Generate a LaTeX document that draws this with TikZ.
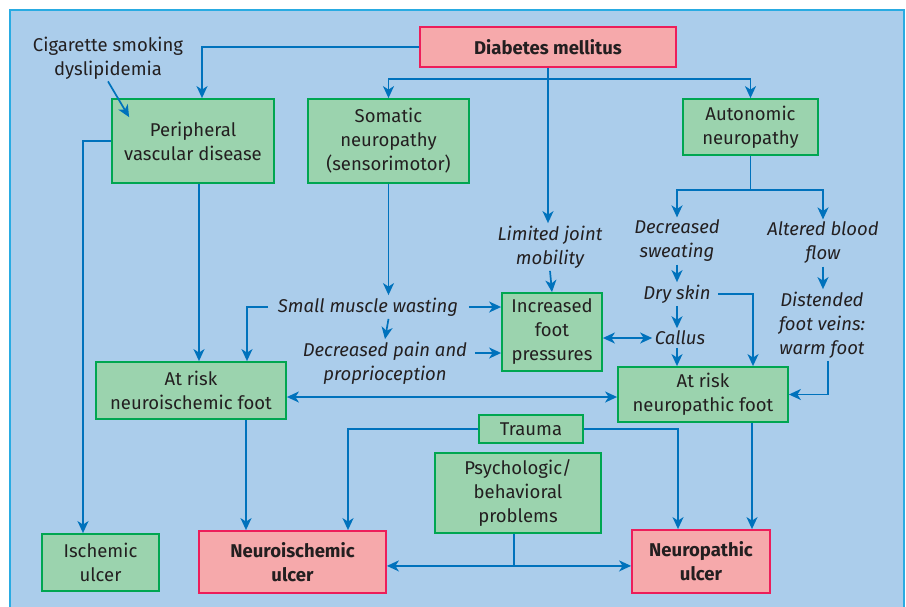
\documentclass[tikz,border=0pt]{standalone}
\usepackage{fontspec}
\setmainfont{Fira Sans}
\usetikzlibrary{arrows.meta,calc}

\definecolor{panelbg}{HTML}{ABCDEB}
\definecolor{panelframe}{HTML}{29ABE2}
\definecolor{boxgreen}{HTML}{9BD3AE}
\definecolor{boxgreenline}{HTML}{00A651}
\definecolor{boxpink}{HTML}{F6A9AB}
\definecolor{boxpinkline}{HTML}{ED1E5A}
\definecolor{flow}{HTML}{0072BC}
\definecolor{ink}{HTML}{231F20}

\begin{document}
\begin{tikzpicture}[x=1pt, y=-1pt, text=ink]

    % let's define some key values
    \def\panelleft{10}
    \def\paneltop{10}
    \def\panelright{904}
    \def\panelbottom{620}
    \def\txt{\fontsize{18.5}{24}\selectfont}

    % Styles
    \tikzstyle{cause}=[draw=boxgreenline, fill=boxgreen, line width=1.8pt,
        align=center, inner sep=0pt, font=\txt]
    \tikzstyle{ulcer}=[draw=boxpinkline, fill=boxpink, line width=1.8pt,
        align=center, inner sep=0pt, font=\txt\bfseries]
    \tikzstyle{factor}=[align=center, inner sep=2.5pt, font=\txt\itshape]
    \tikzstyle{note}=[align=center, inner sep=2pt, font=\txt]
    \tikzstyle{flowline}=[flow, line width=1.7pt]
    \tikzstyle{arr}=[flowline, -{Stealth[length=12pt, width=11pt, inset=3.5pt]}]
    \tikzstyle{dblarr}=[flowline,
        {Stealth[length=12pt, width=11pt, inset=3.5pt]}-{Stealth[length=12pt, width=11pt, inset=3.5pt]}]

    % panel
    \useasboundingbox (0,0) rectangle (906,606);
    \draw[panelframe, fill=panelbg, line width=1.5pt]
        (\panelleft,\paneltop) rectangle (\panelright,\panelbottom);

    % top row
    \node[ulcer, minimum width=256pt, minimum height=40pt] (dm) at (548,47) {Diabetes mellitus};
    \node[note] (cig) at (108,58) {Cigarette smoking\\dyslipidemia};
    \node[cause, minimum width=162pt, minimum height=84pt] (pvd) at (193,141)
        {Peripheral\\vascular disease};
    \node[cause, minimum width=161pt, minimum height=84pt] (som) at (388.5,141)
        {Somatic\\neuropathy\\(sensorimotor)};
    \node[cause, minimum width=135pt, minimum height=56pt] (aut) at (750.5,127)
        {Autonomic\\neuropathy};

    % intermediate factors
    \node[factor] (ljm) at (550,247) {Limited joint\\mobility};
    \node[factor] (dsw) at (677,241) {Decreased\\sweating};
    \node[factor] (abf) at (823,243) {Altered blood\\flow};
    \node[factor] (dry) at (677,294) {Dry skin};
    \node[factor] (cal) at (680,338) {Callus};
    \node[factor] (dfv) at (822,325) {Distended\\foot veins:\\warm foot};
    \node[factor] (smw) at (368,307) {Small muscle wasting};
    \node[factor] (dpp) at (385,363) {Decreased pain and\\proprioception};
    \node[cause, minimum width=100pt, minimum height=78pt] (ifp) at (552,332)
        {Increased\\foot\\pressures};

    % at risk feet
    \node[cause, minimum width=190pt, minimum height=57pt] (nif) at (191,390.5)
        {At risk\\neuroischemic foot};
    \node[cause, minimum width=170pt, minimum height=55pt] (npf) at (703,394.5)
        {At risk\\neuropathic foot};

    % precipitating factors
    \node[cause, minimum width=104pt, minimum height=28pt] (trauma) at (531,429) {Trauma};
    \node[cause, minimum width=166pt, minimum height=80pt] (psy) at (518,493)
        {Psychologic/\\behavioral\\problems};

    % ulcers
    \node[cause, minimum width=117pt, minimum height=57pt] (isu) at (100.5,562.5)
        {Ischemic\\ulcer};
    \node[ulcer, minimum width=187pt, minimum height=62pt] (niu) at (292.5,562)
        {Neuroischemic\\ulcer};
    \node[ulcer, minimum width=138pt, minimum height=63pt] (npu) at (701,561.5)
        {Neuropathic\\ulcer};

    % diabetes branches
    \draw[arr] (dm.west) -| ([xshift=9pt]pvd.north);
    \draw[flowline] (dm.south) -- ++(0,11) coordinate (dmj);
    \draw[arr] (dmj) -| (som.north);
    \draw[arr] (dmj) -| (aut.north);
    \draw[arr] (dmj) -- (dmj |- ljm.north);
    \draw[arr] (cig.south) -- ([shift={(18pt,-19pt)}]pvd.north west);

    % autonomic branches
    \draw[flowline] (aut.south) -- ++(0,34) coordinate (autj);
    \draw[arr] (autj) -| (dsw.north);
    \draw[arr] (autj) -| (abf.north);
    \draw[arr] (dsw.south) -- (dry.north);
    \draw[arr] (dry.south) -- (dry.south |- cal.north);
    \draw[arr] (dry.south |- cal.south) -- (dry.south |- npf.north);
    \draw[arr, shorten <=5pt] (dry.east) -| ([xshift=50pt]npf.north);
    \draw[arr] (abf.south) -- (abf.south |- dfv.north);
    \draw[arr] ([xshift=6pt]dfv.south) |- (npf.east);

    % somatic branches
    \draw[arr] (som.south) -- (som.south |- smw.north);
    \draw[arr] (som.south |- smw.south) -- (dpp.north);
    \draw[arr, shorten <=7pt] (smw.west) -| ([xshift=56pt]nif.north);
    \draw[arr, shorten <=8pt] (smw.east) -- (smw.east -| ifp.west);
    \draw[arr, shorten <=5pt] ([yshift=10pt]dpp.east) -- ([yshift=10pt]dpp.east -| ifp.west);
    \draw[arr] (ljm.south) -- (ifp.north);
    \draw[dblarr] (cal.west -| ifp.east) -- (cal.west);

    % vascular branches
    \draw[arr] ([xshift=6pt]pvd.south) -- ([xshift=6pt]pvd.south |- nif.north);
    \draw[arr] (pvd.west) -| ([xshift=-17.5pt]isu.north);

    % at risk feet to ulcers
    \draw[dblarr] ([yshift=-2.5pt]npf.west -| nif.east) -- ([yshift=-2.5pt]npf.west);
    \draw[arr] ([xshift=55pt]nif.south) -- ([xshift=55pt]nif.south |- niu.north);
    \draw[arr] ([xshift=49pt]npf.south) -- ([xshift=49pt]npf.south |- npu.north);
    \draw[arr] (trauma.west) -| ([xshift=55.5pt]niu.north);
    \draw[arr] (trauma.east) -| ([xshift=-23pt]npu.north);
    \draw[flowline] ([xshift=-4pt]psy.south) -- ++(0,32) coordinate (psyj);
    \draw[arr] (psyj) -- (psyj -| niu.east);
    \draw[arr] (psyj) -- (psyj -| npu.west);

\end{tikzpicture}
\end{document}
